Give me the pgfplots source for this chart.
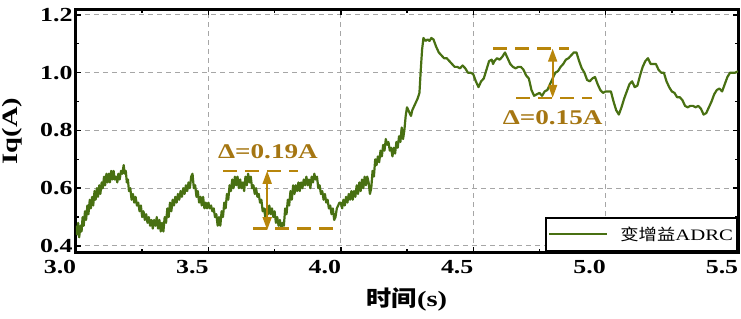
\documentclass[border=0pt]{standalone}
\usepackage{fontspec}
\setmainfont{Liberation Serif}[FakeStretch=1.3]
\newfontfamily\cjk{Noto Sans CJK SC}[FakeStretch=1.15]
\usepackage{pgfplots}
\pgfplotsset{compat=1.18}
\usetikzlibrary{arrows.meta}
\definecolor{lgreen}{RGB}{72,112,18}
\definecolor{gold}{RGB}{184,134,11}
\definecolor{goldtxt}{RGB}{165,118,18}
\begin{document}
\begin{tikzpicture}
\path[use as bounding box] (-76bp,-67bp) rectangle (665bp,252bp);
\begin{axis}[
  scale only axis, width=662bp, height=242bp,
  xmin=3.0, xmax=5.5, ymin=0.379, ymax=1.217,
  xtick={3.0,3.5,4.0,4.5,5.0,5.5},
  ytick={0.4,0.6,0.8,1.0,1.2},
  minor x tick num=1, minor y tick num=1,
  xticklabel style={/tikz/xshift=-16bp, /tikz/yshift=-5bp, /pgf/number format/.cd,fixed,fixed zerofill,precision=1},
  yticklabel style={/pgf/number format/.cd,fixed,fixed zerofill,precision=1},
  /pgf/number format/assume math mode=true,
  tick label style={font=\fontsize{20}{24}\selectfont\bfseries},
  tick align=inside,
  major tick length=5bp, minor tick length=3bp,
  tick style={black, line width=1.4bp},
  axis line style={black, line width=3bp},
  grid=major,
  major grid style={gray!70, line width=0.9bp, dash pattern=on 5bp off 4bp},
  xlabel={{\cjk\bfseries 时间}\textbf{(s)}},
  ylabel={\textbf{Iq(A)}},
  every axis x label/.style={at={(axis description cs:0.5,-0.198)},anchor=center,font=\fontsize{22}{26}\selectfont},
  every axis y label/.style={at={(axis description cs:-0.097,0.5)},anchor=center,rotate=90,font=\fontsize{22}{26}\selectfont},
  legend style={at={(axis description cs:1,0)}, anchor=south east, draw=black, line width=2.2bp,
    font=\fontsize{16}{19}\selectfont, inner xsep=2bp, inner ysep=7bp,
    legend cell align=left},
  legend image code/.code={\draw[#1, line width=2.2bp] (-2bp,0bp) -- (56bp,0bp);},
]
\addplot[lgreen, line width=2.2bp, line join=round] coordinates {
(3.000,0.47) (3.004,0.44) (3.008,0.48) (3.012,0.43) (3.017,0.47) (3.021,0.45) (3.025,0.50) (3.029,0.47)
(3.034,0.52) (3.038,0.49) (3.043,0.54) (3.047,0.51) (3.052,0.56) (3.056,0.53) (3.061,0.57) (3.065,0.54)
(3.070,0.59) (3.074,0.56) (3.079,0.60) (3.083,0.57) (3.088,0.61) (3.092,0.58) (3.097,0.62) (3.101,0.60)
(3.106,0.64) (3.110,0.61) (3.115,0.65) (3.119,0.62) (3.124,0.65) (3.128,0.62) (3.133,0.66) (3.137,0.63)
(3.142,0.66) (3.146,0.63) (3.151,0.64) (3.156,0.62) (3.160,0.65) (3.165,0.63) (3.170,0.66) (3.175,0.65)
(3.180,0.68) (3.184,0.65) (3.188,0.66) (3.192,0.62) (3.196,0.63) (3.200,0.59) (3.205,0.60) (3.210,0.56)
(3.215,0.58) (3.220,0.55) (3.225,0.57) (3.230,0.54) (3.235,0.55) (3.240,0.52) (3.245,0.54) (3.250,0.50)
(3.255,0.52) (3.260,0.49) (3.265,0.51) (3.270,0.48) (3.275,0.50) (3.280,0.47) (3.285,0.49) (3.290,0.46)
(3.295,0.49) (3.300,0.47) (3.305,0.50) (3.310,0.46) (3.315,0.49) (3.320,0.45) (3.325,0.48) (3.330,0.45)
(3.335,0.50) (3.340,0.48) (3.345,0.53) (3.350,0.50) (3.355,0.55) (3.360,0.52) (3.365,0.56) (3.370,0.54)
(3.375,0.57) (3.380,0.55) (3.385,0.58) (3.390,0.56) (3.395,0.59) (3.400,0.57) (3.405,0.60) (3.410,0.58)
(3.415,0.61) (3.420,0.59) (3.425,0.62) (3.430,0.60) (3.435,0.64) (3.440,0.65) (3.445,0.60) (3.450,0.61)
(3.455,0.57) (3.460,0.59) (3.465,0.55) (3.470,0.57) (3.475,0.54) (3.480,0.57) (3.485,0.53) (3.490,0.55)
(3.495,0.53) (3.500,0.55) (3.505,0.53) (3.510,0.54) (3.515,0.52) (3.520,0.53) (3.525,0.50) (3.530,0.51)
(3.535,0.47) (3.540,0.50) (3.545,0.47) (3.550,0.52) (3.555,0.50) (3.560,0.55) (3.565,0.53) (3.570,0.58)
(3.575,0.56) (3.580,0.61) (3.585,0.59) (3.590,0.63) (3.595,0.60) (3.600,0.64) (3.605,0.61) (3.610,0.64)
(3.615,0.60) (3.620,0.63) (3.625,0.60) (3.630,0.62) (3.635,0.59) (3.640,0.64) (3.645,0.61) (3.650,0.65)
(3.655,0.62) (3.660,0.64) (3.665,0.60) (3.670,0.61) (3.675,0.58) (3.680,0.60) (3.685,0.57) (3.690,0.58)
(3.695,0.55) (3.700,0.56) (3.705,0.52) (3.710,0.53) (3.715,0.50) (3.720,0.53) (3.725,0.51) (3.730,0.54)
(3.735,0.51) (3.740,0.53) (3.745,0.50) (3.750,0.52) (3.755,0.48) (3.760,0.50) (3.765,0.47) (3.770,0.49)
(3.775,0.46) (3.780,0.48) (3.785,0.47) (3.790,0.53) (3.795,0.51) (3.800,0.56) (3.805,0.54) (3.810,0.59)
(3.815,0.56) (3.820,0.61) (3.825,0.58) (3.830,0.61) (3.835,0.59) (3.840,0.62) (3.845,0.59) (3.850,0.62)
(3.855,0.60) (3.860,0.63) (3.865,0.61) (3.870,0.64) (3.875,0.61) (3.880,0.63) (3.885,0.60) (3.890,0.64)
(3.895,0.62) (3.900,0.65) (3.905,0.63) (3.910,0.64) (3.915,0.60) (3.920,0.61) (3.925,0.58) (3.930,0.59)
(3.935,0.56) (3.940,0.58) (3.945,0.55) (3.950,0.56) (3.955,0.53) (3.960,0.54) (3.965,0.51) (3.970,0.53)
(3.975,0.49) (3.980,0.50) (3.985,0.53) (3.990,0.54) (3.995,0.55) (4.000,0.55) (4.005,0.53) (4.010,0.56)
(4.015,0.54) (4.020,0.57) (4.025,0.55) (4.030,0.58) (4.035,0.56) (4.040,0.59) (4.045,0.56) (4.050,0.59)
(4.055,0.57) (4.060,0.61) (4.065,0.58) (4.070,0.62) (4.075,0.59) (4.080,0.63) (4.085,0.60) (4.090,0.64)
(4.095,0.61) (4.100,0.64) (4.105,0.62) (4.110,0.58) (4.115,0.60) (4.120,0.66) (4.125,0.64) (4.130,0.70)
(4.135,0.68) (4.140,0.71) (4.145,0.69) (4.150,0.73) (4.155,0.71) (4.160,0.75) (4.165,0.73) (4.170,0.77)
(4.175,0.75) (4.180,0.76) (4.185,0.73) (4.190,0.74) (4.195,0.71) (4.200,0.74) (4.205,0.72) (4.210,0.76)
(4.215,0.74) (4.220,0.78) (4.225,0.76) (4.230,0.81) (4.235,0.77) (4.240,0.80) (4.245,0.85) (4.250,0.88)
(4.255,0.87) (4.260,0.86) (4.265,0.85) (4.270,0.87) (4.280,0.89) (4.290,0.91) (4.297,0.93) (4.302,1.01)
(4.307,1.08) (4.312,1.12) (4.320,1.11) (4.328,1.115) (4.335,1.11) (4.342,1.12) (4.350,1.115) (4.360,1.09)
(4.370,1.07) (4.380,1.06) (4.390,1.05) (4.400,1.05) (4.410,1.04) (4.420,1.03) (4.430,1.02) (4.440,1.02)
(4.450,1.015) (4.460,1.025) (4.470,1.015) (4.480,1.00) (4.490,1.00) (4.500,0.995) (4.510,0.97) (4.520,0.95)
(4.530,0.97) (4.540,0.98) (4.550,1.01) (4.560,1.04) (4.570,1.045) (4.575,1.03) (4.580,1.04) (4.590,1.05)
(4.600,1.045) (4.610,1.055) (4.620,1.07) (4.630,1.05) (4.640,1.03) (4.650,1.02) (4.660,1.015) (4.670,1.02)
(4.680,1.02) (4.690,1.01) (4.700,0.99) (4.710,0.98) (4.720,0.94) (4.730,0.92) (4.740,0.925) (4.750,0.93)
(4.760,0.92) (4.770,0.935) (4.780,0.94) (4.790,0.96) (4.800,0.98) (4.810,1.00) (4.820,1.005) (4.830,1.02)
(4.840,1.03) (4.850,1.045) (4.860,1.05) (4.870,1.06) (4.880,1.07) (4.890,1.07) (4.900,1.04) (4.910,1.015)
(4.920,1.00) (4.930,0.975) (4.940,0.97) (4.950,0.98) (4.960,0.985) (4.970,0.96) (4.980,0.94) (4.990,0.93)
(5.000,0.935) (5.010,0.935) (5.020,0.935) (5.030,0.90) (5.040,0.87) (5.050,0.855) (5.060,0.88) (5.070,0.91)
(5.080,0.935) (5.090,0.96) (5.100,0.97) (5.110,0.95) (5.120,0.955) (5.130,0.99) (5.140,1.02) (5.150,1.04)
(5.160,1.05) (5.170,1.03) (5.180,1.03) (5.190,1.03) (5.200,1.01) (5.210,1.00) (5.220,1.00) (5.230,0.97)
(5.240,0.95) (5.250,0.935) (5.260,0.93) (5.270,0.915) (5.280,0.915) (5.290,0.905) (5.300,0.885) (5.310,0.88)
(5.320,0.885) (5.330,0.885) (5.340,0.88) (5.350,0.885) (5.360,0.875) (5.370,0.855) (5.380,0.86) (5.390,0.88)
(5.400,0.90) (5.410,0.925) (5.420,0.94) (5.430,0.945) (5.440,0.935) (5.450,0.96) (5.460,0.985) (5.470,1.00)
(5.480,1.00) (5.490,1.00) (5.500,1.005)
};
\addlegendentry{\hspace{10bp}{\cjk 变增益}ADRC}
% annotation 1
\draw[gold, line width=2.4bp, dash pattern=on 14bp off 8bp] (axis cs:3.557,0.66) -- (axis cs:3.837,0.66);
\draw[gold, line width=2.4bp, dash pattern=on 14bp off 8bp] (axis cs:3.67,0.46) -- (axis cs:3.97,0.46);
\draw[gold, line width=1.8bp, {Triangle[length=13bp,width=9bp]}-{Triangle[length=13bp,width=9bp]}] (axis cs:3.722,0.66) -- (axis cs:3.722,0.455);
\node[goldtxt, font=\fontsize{21}{24}\selectfont\bfseries] at (axis cs:3.725,0.726) {Δ=0.19A};
% annotation 2
\draw[gold, line width=2.4bp, dash pattern=on 14bp off 8bp] (axis cs:4.576,1.083) -- (axis cs:4.86,1.083);
\draw[gold, line width=2.4bp, dash pattern=on 14bp off 8bp] (axis cs:4.663,0.913) -- (axis cs:4.947,0.913);
\draw[gold, line width=1.8bp, {Triangle[length=13bp,width=9bp]}-{Triangle[length=13bp,width=9bp]}] (axis cs:4.80,1.083) -- (axis cs:4.80,0.913);
\node[goldtxt, font=\fontsize{21}{24}\selectfont\bfseries] at (axis cs:4.80,0.844) {Δ=0.15A};
\end{axis}
\end{tikzpicture}
\end{document}
